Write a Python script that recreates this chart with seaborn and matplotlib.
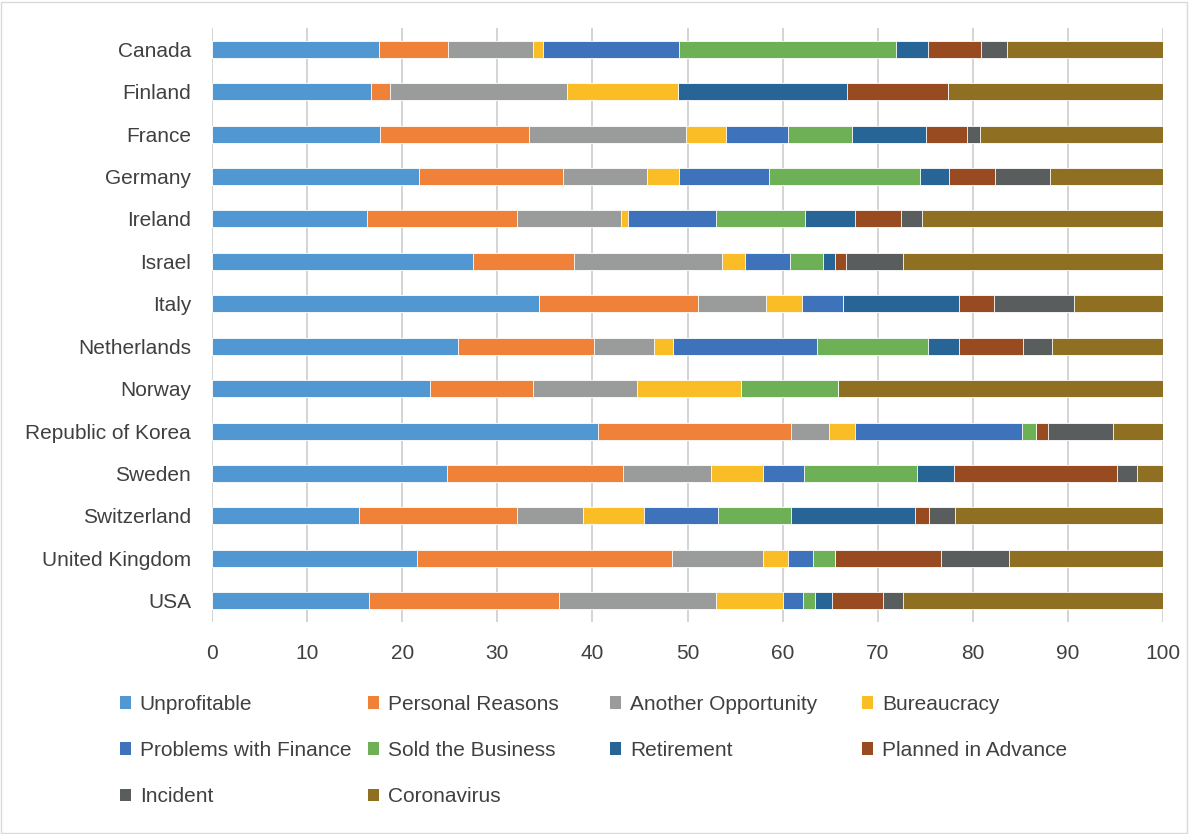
import numpy as np
import pandas as pd
import matplotlib
matplotlib.use("Agg")
import matplotlib.pyplot as plt
import seaborn as sns
from matplotlib.patches import Patch, Rectangle

# countries, top to bottom
countries = ['Canada', 'Finland', 'France', 'Germany', 'Ireland', 'Israel', 'Italy',
             'Netherlands', 'Norway', 'Republic of Korea', 'Sweden', 'Switzerland',
             'United Kingdom', 'USA']

# shares (%) per reason
unprofitable = [17.6, 16.7, 17.7, 21.8, 16.3, 27.4, 34.4, 25.9, 22.9, 40.6, 24.7, 15.5, 21.6, 16.5]
personal     = [7.2, 2.0, 15.6, 15.1, 15.8, 10.7, 16.7, 14.3, 10.9, 20.3, 18.5, 16.6, 26.8, 20.0]
another_opp  = [9.0, 18.6, 16.5, 8.8, 10.9, 15.5, 7.2, 6.3, 10.9, 4.0, 9.3, 6.9, 9.5, 16.5]
bureaucracy  = [1.0, 11.7, 4.2, 3.4, 0.7, 2.4, 3.7, 2.0, 10.9, 2.7, 5.4, 6.4, 2.7, 7.0]
finance      = [14.3, 0.0, 6.6, 9.5, 9.3, 4.8, 4.4, 15.1, 0.0, 17.6, 4.4, 7.8, 2.6, 2.1]
sold         = [22.8, 0.0, 6.7, 15.8, 9.4, 3.5, 0.0, 11.7, 10.2, 1.4, 11.8, 7.7, 2.3, 1.3]
retirement   = [3.4, 17.8, 7.8, 3.1, 5.2, 1.2, 12.1, 3.2, 0.0, 0.0, 3.9, 13.0, 0.0, 1.8]
planned      = [5.6, 10.6, 4.3, 4.8, 4.9, 1.2, 3.7, 6.8, 0.0, 1.3, 17.2, 1.5, 11.2, 5.4]
incident     = [2.7, 0.0, 1.4, 5.8, 2.2, 6.0, 8.4, 3.0, 0.0, 6.8, 2.1, 2.7, 7.1, 2.1]
coronavirus  = [16.4, 22.6, 19.2, 11.9, 25.3, 27.3, 9.4, 11.7, 34.2, 5.3, 2.7, 21.9, 16.2, 27.3]

reasons = ['Unprofitable', 'Personal Reasons', 'Another Opportunity', 'Bureaucracy',
           'Problems with Finance', 'Sold the Business', 'Retirement',
           'Planned in Advance', 'Incident', 'Coronavirus']
colors = ['#5198D2', '#F08139', '#9A9C9C', '#FBBD26', '#3E72BA', '#6DB055',
          '#276596', '#984B20', '#5A5D5E', '#8F7023']

df = pd.DataFrame({'Country': countries})
for name, vals in zip(reasons, [unprofitable, personal, another_opp, bureaucracy, finance,
                                sold, retirement, planned, incident, coronavirus]):
    df[name] = vals

# cumulative sums so bars can be overlaid from longest to shortest
cum = df[reasons].cumsum(axis=1)
cum['Country'] = df['Country']

sns.set_style("white")
plt.rcParams['font.family'] = ['Liberation Sans', 'DejaVu Sans']

fig = plt.figure(figsize=(11.89, 8.34), dpi=100)
ax = fig.add_axes([212 / 1189, 1 - 622 / 834, (1163 - 212) / 1189, (622 - 28) / 834])

for name, col in reversed(list(zip(reasons, colors))):
    sns.barplot(data=cum, x=name, y='Country', color=col, saturation=1, width=0.4, ax=ax,
                edgecolor='white', linewidth=0.6, zorder=3)

ax.set_xlim(0, 100)
ax.set_ylim(13.5, -0.5)
ax.set_xticks(range(0, 101, 10))
ax.set_xlabel('')
ax.set_ylabel('')
ax.grid(axis='x', color='#D4D4D4', linewidth=1.4, zorder=0)
ax.grid(axis='y', visible=False)
for s in ax.spines.values():
    s.set_visible(False)
ax.tick_params(axis='y', length=0, pad=15, labelsize=15, labelcolor='#404040')
ax.tick_params(axis='x', length=0, pad=16, labelsize=15, labelcolor='#404040')

# legend laid out row-wise like the original, one legend per column
handles = [Patch(facecolor=c, edgecolor='none') for c in colors]
col_x = [120 / 1189, 368 / 1189, 610 / 1189, 862 / 1189]
for j in range(4):
    idx = [i for i in range(j, len(reasons), 4)]
    fig.legend([handles[i] for i in idx], [reasons[i] for i in idx],
               loc='upper left', bbox_to_anchor=(col_x[j], 1 - 695 / 834),
               frameon=False, fontsize=15, labelcolor='#404040',
               handlelength=0.55, handleheight=0.55, handletextpad=0.4,
               labelspacing=1.3, borderaxespad=0, borderpad=0)

fig.patches.append(Rectangle((0.001, 0.001), 0.997, 0.997, transform=fig.transFigure,
                             fill=False, edgecolor='#D9D9D9', linewidth=1))

plt.savefig('out.png', dpi=100)
